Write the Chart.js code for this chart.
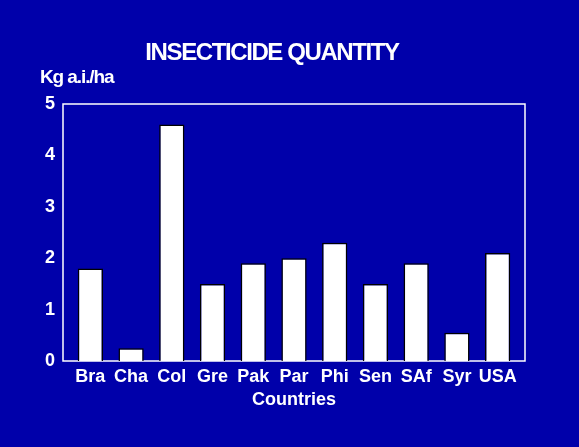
<!DOCTYPE html>
<html>
<head>
<meta charset="utf-8">
<script src="https://cdn.jsdelivr.net/npm/chart.js@4"></script>
<style>
  html, body { margin: 0; padding: 0; background: #0000aa; }
  #wrap { width: 579px; height: 447px; position: relative; }
</style>
</head>
<body>
<div id="wrap"><canvas id="barChart"></canvas></div>
<script>
const countries = ["Bra", "Cha", "Col", "Gre", "Pak", "Par", "Phi", "Sen", "SAf", "Syr", "USA"];
const quantities = [1.8, 0.25, 4.6, 1.5, 1.9, 2.0, 2.3, 1.5, 1.9, 0.55, 2.1];
const yTicks = [0, 1, 2, 3, 4, 5];

const white = "#ffffff";
const font = "Liberation Sans";

// frame around plot (a bit wider than the chart area) plus title texts
const framePlugin = {
    id: "frameAndText",
    beforeDatasetsDraw(chart) {
        const a = chart.chartArea;
        const ctx = chart.ctx;
        ctx.save();
        ctx.strokeStyle = white;
        ctx.lineWidth = 1.5;
        ctx.strokeRect(a.left - 7, a.top, a.right - a.left + 14, a.bottom - a.top);
        ctx.restore();
    },
    afterDraw(chart) {
        const ctx = chart.ctx;
        ctx.save();
        ctx.fillStyle = white;
        ctx.textBaseline = "alphabetic";
        ctx.font = "bold 24px '" + font + "'";
        ctx.letterSpacing = "-1.4px";
        ctx.textAlign = "center";
        ctx.fillText("INSECTICIDE QUANTITY", 272, 60);
        ctx.font = "bold 19px '" + font + "'";
        ctx.letterSpacing = "-1.1px";
        ctx.textAlign = "left";
        ctx.fillText("Kg a.i./ha", 40, 83);
        ctx.restore();
    }
};

new Chart(document.getElementById("barChart"), {
    type: "bar",
    data: {
        labels: countries,
        datasets: [{
            data: quantities,
            backgroundColor: white,
            borderColor: "#000000",
            borderWidth: 1.5,
            borderSkipped: "bottom",
            categoryPercentage: 1,
            barPercentage: 0.62
        }]
    },
    options: {
        responsive: true,
        maintainAspectRatio: false,
        animation: false,
        layout: { padding: { top: 104, right: 61, bottom: 36, left: 0 } },
        plugins: {
            legend: { display: false },
            title: { display: false },
            tooltip: { enabled: false }
        },
        scales: {
            x: {
                grid: { display: false, drawTicks: false },
                border: { display: false },
                ticks: {
                    color: white,
                    font: { family: font, size: 18, weight: "bold" },
                    padding: 5,
                    autoSkip: false,
                    maxRotation: 0
                },
                title: {
                    display: true,
                    text: "Countries",
                    color: white,
                    font: { family: font, size: 18, weight: "bold" },
                    padding: { top: 0, bottom: 0 }
                },
                afterFit(scale) { scale.height = 50; }
            },
            y: {
                min: 0,
                max: 5,
                grid: { display: false, drawTicks: false },
                border: { display: false },
                afterBuildTicks(scale) { scale.ticks = yTicks.map(v => ({ value: v })); },
                ticks: {
                    color: white,
                    font: { family: font, size: 18, weight: "bold" },
                    padding: 15
                },
                afterFit(scale) { scale.width = 70; }
            }
        }
    },
    plugins: [framePlugin]
});
</script>
</body>
</html>
